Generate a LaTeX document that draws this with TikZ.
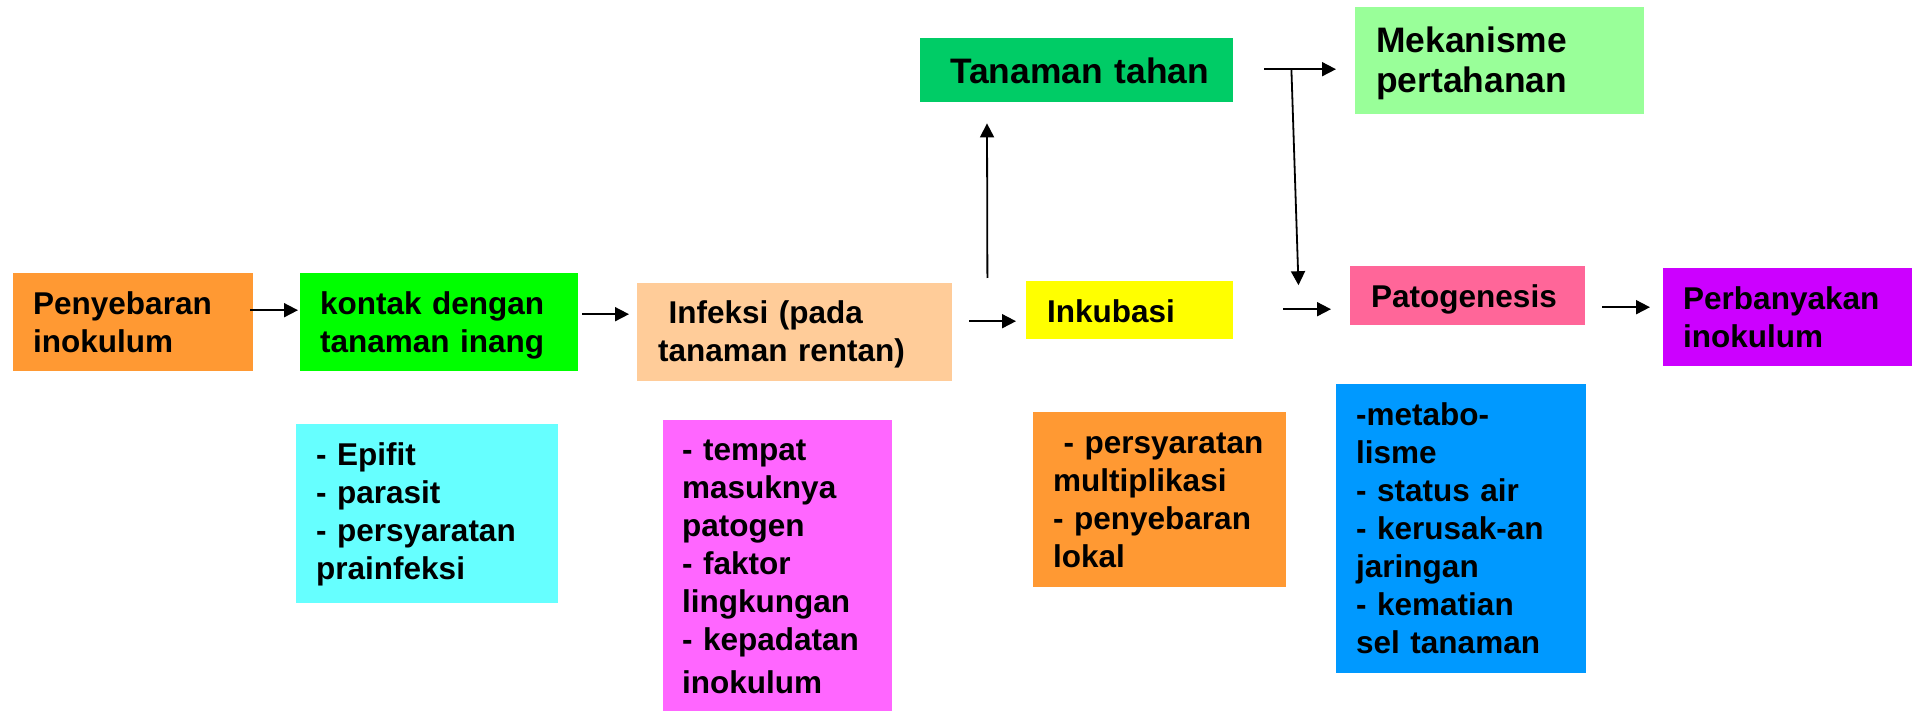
\documentclass[tikz,border=0pt]{standalone}
\usepackage{fontspec}
\setmainfont{Liberation Sans}
\usepackage{xcolor}
\usepackage{tikz}
\usetikzlibrary{arrows.meta,calc}
\definecolor{PGOrange}{HTML}{FF9933}
\definecolor{PGLime}{HTML}{00FF00}
\definecolor{PGPeach}{HTML}{FFCC99}
\definecolor{PGYellow}{HTML}{FFFF00}
\definecolor{PGPink}{HTML}{FF6699}
\definecolor{PGPurple}{HTML}{CC00FF}
\definecolor{PGTeal}{HTML}{00CC66}
\definecolor{PGMint}{HTML}{99FF99}
\definecolor{PGCyan}{HTML}{66FFFF}
\definecolor{PGMagenta}{HTML}{FF66FF}
\definecolor{PGBlue}{HTML}{0099FF}
\hyphenpenalty=10000
\exhyphenpenalty=10000

\begin{document}
\begin{tikzpicture}[
  x=1pt,y=-1pt,
  font=\bfseries\fontsize{31.5}{38}\selectfont,
  box/.style={rectangle,draw=none,anchor=north west,align=left,inner ysep=0pt,inner xsep=20pt,text height=41pt},
  bigtext/.style={font=\bfseries\fontsize{35.4}{40}\selectfont},
  flow/.style={-{Triangle[length=14pt,width=14pt]},line width=1.8pt,draw=black}
]
\useasboundingbox (0,0) rectangle (1912,711);

\node[box,fill=PGOrange,text width=200pt,text depth=57pt] (penyebaran) at (13,273) {Penyebaran\\inokulum};
\node[box,fill=PGLime,text width=238pt,text depth=57pt] (kontak) at (300,273) {kontak dengan\\tanaman inang};
\node[box,fill=PGPeach,inner xsep=21pt,text width=273pt,text height=40pt,text depth=58pt] (infeksi) at (637,283) {\ Infeksi (pada\\tanaman rentan)};
\node[box,fill=PGYellow,inner xsep=21pt,text width=165pt,text depth=17pt] (inkubasi) at (1026,281) {Inkubasi};
\node[box,fill=PGPink,inner xsep=21pt,text width=193pt,text depth=18pt] (patogenesis) at (1350,266) {Patogenesis};
\node[box,fill=PGPurple,text width=209pt,text depth=57pt] (perbanyakan) at (1663,268) {Perbanyakan\\inokulum};
\node[box,bigtext,fill=PGTeal,inner xsep=30pt,text width=253pt,text height=45pt,text depth=19pt] (tahan) at (920,38) {Tanaman~tahan};
\node[box,bigtext,fill=PGMint,inner xsep=21pt,text width=247pt,text height=45pt,text depth=62pt] (mekanisme) at (1355,7) {Mekanisme\\pertahanan};

\node[box,fill=PGCyan,text width=222pt,text depth=138pt] (epifit) at (296,424) {-~Epifit\\-~parasit\\-~persyaratan\\prainfeksi};
\node[box,fill=PGMagenta,inner xsep=19pt,text width=191pt,text height=40pt,text depth=251pt] (tempat) at (663,420) {-~tempat\\masuknya\\patogen\\-~faktor\\lingkungan\\-~kepadatan\\[5pt]inokulum};
\node[box,fill=PGOrange,text width=213pt,text depth=134pt] (multiplikasi) at (1033,412) {\ -~persyaratan\\multiplikasi\\-~penyebaran\\lokal};
\node[box,fill=PGBlue,text width=210pt,text depth=248pt] (metabolisme) at (1336,384) {-metabo-\\lisme\\-~status air\\-~kerusak-an\\jaringan\\-~kematian\\sel tanaman};

\coordinate (split) at ($(tahan.east)+(58,-1)$);

\draw[flow] ($(penyebaran.east)+(-3,-12)$) -- ($(kontak.west)+(-2,-12)$);
\draw[flow] ($(kontak.east)+(4,-8)$) -- ($(infeksi.west)+(-8,-18)$);
\draw[flow] ($(infeksi.east)+(17,-11)$) -- ($(inkubasi.west)+(-10,11)$);
\draw[flow] ($(inkubasi.east)+(50,-1)$) -- ($(patogenesis.west)+(-19,13.5)$);
\draw[flow] ($(patogenesis.east)+(17,11.5)$) -- ($(perbanyakan.west)+(-13,-10)$);
\draw[flow] ($(infeksi.north east)+(35,-5)$) -- ($(tahan.south west)+(67,21)$);
\draw[flow] ($(tahan.east)+(31,-1)$) -- ($(mekanisme.west)+(-19,8.5)$);
\draw[flow] (split) -- ($(patogenesis.west)+(-51.5,-10.5)$);
\end{tikzpicture}
\end{document}
